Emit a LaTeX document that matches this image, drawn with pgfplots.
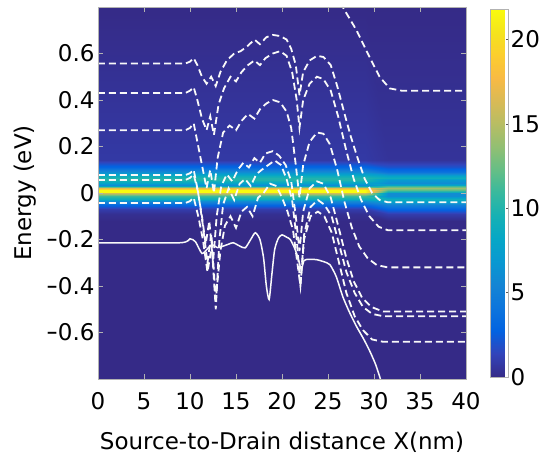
\documentclass[border=0pt]{standalone}
\usepackage{fontspec}
\setmainfont{DejaVu Sans}
\usepackage{graphicx}
\usepackage{pgfplots}
\usepackage{pgfplotstable}
\pgfplotsset{compat=1.18}
\newcommand{\mn}{\scalebox{0.6}[1]{−}}
\newcommand{\fs}{\fontsize{23}{27}\selectfont}

\pgfplotsset{colormap={parula}{
 rgb=(0.2081,0.1663,0.5292)
 rgb=(0.1959,0.2645,0.7279)
 rgb=(0.0117,0.3875,0.8820)
 rgb=(0.0498,0.4586,0.8641)
 rgb=(0.0793,0.5200,0.8312)
 rgb=(0.0343,0.5966,0.8199)
 rgb=(0.0228,0.6535,0.7768)
 rgb=(0.0843,0.6928,0.7062)
 rgb=(0.2178,0.7250,0.6193)
 rgb=(0.3953,0.7459,0.5244)
 rgb=(0.5709,0.7485,0.4494)
 rgb=(0.7184,0.7411,0.3905)
 rgb=(0.8507,0.7299,0.3360)
 rgb=(0.9739,0.7314,0.2666)
 rgb=(0.9880,0.8066,0.1794)
 rgb=(0.9589,0.8949,0.1132)
 rgb=(0.9763,0.9831,0.0538)
}}

% density of states: x (nm), E (eV), value
\pgfplotstableread{
x y c
0 -0.8 0
29 -0.8 0
31.5 -0.8 0
40 -0.8 0
0 -0.12 0
29 -0.12 0
31.5 -0.12 0
40 -0.12 0
0 -0.09 0.3
29 -0.09 0.3
31.5 -0.09 1
40 -0.09 1
0 -0.07 1
29 -0.07 1
31.5 -0.07 3
40 -0.07 3
0 -0.05 3
29 -0.05 3
31.5 -0.05 5
40 -0.05 5
0 -0.035 6
29 -0.035 6
31.5 -0.035 8
40 -0.035 8
0 -0.025 9
29 -0.025 9
31.5 -0.025 9
40 -0.025 9
0 -0.012 11
29 -0.012 11
31.5 -0.012 6
40 -0.012 6
0 0 16
29 0 16
31.5 0 6
40 0 6
0 0.006 21.8
29 0.006 21.8
31.5 0.006 9
40 0.006 9
0 0.012 21.8
29 0.012 21.8
31.5 0.012 12
40 0.012 12
0 0.02 17
29 0.02 17
31.5 0.02 14
40 0.02 14
0 0.028 8
29 0.028 8
31.5 0.028 11
40 0.028 11
0 0.035 6
29 0.035 6
31.5 0.035 8
40 0.035 8
0 0.045 8
29 0.045 8
31.5 0.045 6
40 0.045 6
0 0.055 10
29 0.055 10
31.5 0.055 7
40 0.055 7
0 0.065 10
29 0.065 10
31.5 0.065 9
40 0.065 9
0 0.075 9
29 0.075 9
31.5 0.075 8
40 0.075 8
0 0.09 6
29 0.09 6
31.5 0.09 4
40 0.09 4
0 0.11 3
29 0.11 3
31.5 0.11 2
40 0.11 2
0 0.14 0.8
29 0.14 0.8
31.5 0.14 0.5
40 0.14 0.5
0 0.8 0
29 0.8 0
31.5 0.8 0
40 0.8 0
}\dos

\tikzset{band/.style={white!95!gray, line width=1.8pt, dash pattern=on 7pt off 4pt}}

\begin{document}
\begin{tikzpicture}
\path[use as bounding box] (-98pt,-78pt) rectangle (445pt,379pt);
\begin{axis}[
    width=368pt, height=372pt, scale only axis,
    xmin=0, xmax=40, ymin=-0.8, ymax=0.8,
    xtick={0,5,...,40},
    ytick={-0.6,-0.4,-0.2,0,0.2,0.4,0.6},
    yticklabels={\mn0.6,\mn0.4,\mn0.2,0,0.2,0.4,0.6},
    tick align=inside, major tick length=5pt,
    tick style={gray!60, line width=0.5pt},
    axis line style={gray!60, line width=0.5pt},
    axis on top,
    colormap name=parula,
    point meta min=0, point meta max=21.8,
    /pgf/number format/assume math mode=true,
    tick label style={font=\fs},
    label style={font=\fs},
    xticklabel style={yshift=-10pt},
    xlabel={Source-to-Drain distance X(nm)},
    ylabel={Energy (eV)},
    x label style={at={(axis description cs:0.5,-0.169)}, anchor=center},
    y label style={at={(axis description cs:-0.198,0.5)}, anchor=center},
    colorbar,
    colorbar style={
        at={(parent axis.north east)}, anchor=north west,
        xshift=16pt, yshift=-2pt,
        width=18pt, height=368pt, scale only axis,
        ytick={0,5,10,15,20},
        ytick pos=right, yticklabel pos=right,
        tick align=inside, major tick length=3pt,
        tick style={gray!70!black, line width=0.5pt},
        axis line style={gray!60, line width=0.5pt},
        /pgf/number format/assume math mode=true,
        yticklabel style={font=\fs, inner sep=1pt, xshift=1pt},
    },
]
\addplot[surf, shader=interp, mesh/cols=4, point meta=explicit]
    table[x=x, y=y, meta=c] {\dos};

% top band (enters from above)
\addplot[band] coordinates {
(25,1.05) (26,0.9) (26.6,0.8) (28.1,0.70) (29.2,0.61) (30.6,0.50)
(31.7,0.45) (33,0.44) (40,0.44)};

\addplot[band] coordinates {
(0,0.557) (9.5,0.557) (10,0.565) (10.4,0.58) (10.8,0.55) (11.3,0.50)
(11.8,0.47) (12.3,0.50) (12.8,0.46) (13.3,0.52) (14,0.57) (14.8,0.60)
(15.5,0.61) (16.2,0.63) (17,0.66) (17.6,0.64) (18.3,0.67) (19,0.68)
(19.8,0.675) (20.5,0.66) (21,0.62) (21.5,0.55) (21.9,0.42) (22.3,0.52)
(23,0.57) (23.8,0.59) (24.5,0.585) (25.3,0.55) (26,0.46) (26.8,0.34)
(27.5,0.24) (28.3,0.14) (29,0.06) (29.8,0.0) (30.6,-0.03) (31.5,-0.04)
(40,-0.04)};

\addplot[band] coordinates {
(0,0.43) (9.5,0.43) (10,0.44) (10.4,0.455) (10.8,0.40) (11.3,0.32)
(11.8,0.27) (12.2,0.33) (12.6,0.25) (13.1,0.38) (13.7,0.45) (14.4,0.50)
(15,0.48) (15.6,0.52) (16.3,0.55) (17,0.57) (17.6,0.55) (18.2,0.58)
(19,0.60) (19.8,0.61) (20.5,0.59) (21.1,0.52) (21.6,0.40) (21.9,0.28)
(22.3,0.40) (23,0.47) (23.8,0.50) (24.5,0.49) (25.3,0.44) (26.1,0.33)
(27,0.18) (27.8,0.06) (28.6,-0.03) (29.5,-0.10) (30.5,-0.145) (31.5,-0.16)
(40,-0.16)};

\addplot[band] coordinates {
(0,0.27) (9.5,0.27) (10,0.28) (10.4,0.30) (10.8,0.22) (11.3,0.12)
(11.8,0.02) (12.2,0.10) (12.6,0.0) (13,0.15) (13.6,0.26) (14.3,0.29)
(15,0.27) (15.6,0.31) (16.3,0.34) (17,0.32) (17.6,0.36) (18.3,0.385)
(19,0.40) (19.8,0.39) (20.5,0.35) (21,0.28) (21.5,0.12) (21.9,-0.02)
(22.3,0.12) (23,0.22) (23.8,0.26) (24.5,0.255) (25.2,0.21) (26,0.10)
(26.8,-0.04) (27.6,-0.15) (28.4,-0.23) (29.3,-0.28) (30.3,-0.31) (31.5,-0.32)
(40,-0.32)};

\addplot[band] coordinates {
(0,0.077) (9.5,0.077) (10,0.085) (10.4,0.10) (10.8,0.02) (11.3,-0.10)
(11.7,-0.22) (12.1,-0.12) (12.5,-0.30) (12.9,-0.10) (13.4,0.03) (14,0.08)
(14.6,0.05) (15.2,0.10) (15.8,0.13) (16.4,0.11) (17,0.15) (17.6,0.13)
(18.2,0.17) (19,0.18) (19.7,0.16) (20.4,0.12) (21,0.05) (21.5,-0.10)
(21.9,-0.25) (22.3,-0.08) (23,0.02) (23.8,0.05) (24.5,0.04) (25.3,-0.02)
(26.1,-0.14) (27,-0.28) (27.8,-0.38) (28.7,-0.45) (29.7,-0.49) (31,-0.51)
(40,-0.51)};

\addplot[band] coordinates {
(0,0.056) (9.5,0.056) (10,0.065) (10.4,0.08) (10.9,0.0) (11.4,-0.14)
(11.9,-0.30) (12.3,-0.18) (12.8,-0.50) (13.2,-0.20) (13.6,-0.05) (14.2,0.02)
(14.8,-0.03) (15.4,0.04) (16,0.06) (16.6,0.03) (17.2,0.08) (17.8,0.10)
(18.5,0.12) (19.2,0.14) (19.9,0.12) (20.5,0.06) (21.1,-0.03) (21.6,-0.20)
(22,-0.40) (22.4,-0.18) (23.1,-0.06) (23.9,-0.03) (24.6,-0.05) (25.4,-0.10)
(26.2,-0.22) (27,-0.34) (27.9,-0.43) (28.8,-0.49) (29.8,-0.52) (31,-0.53)
(40,-0.53)};

\addplot[band] coordinates {
(0,-0.043) (9.5,-0.043) (10,-0.035) (10.4,-0.02) (10.9,-0.10) (11.4,-0.20)
(11.9,-0.34) (12.4,-0.22) (12.8,-0.46) (13.3,-0.25) (13.8,-0.14) (14.4,-0.10)
(15,-0.15) (15.6,-0.08) (16.2,-0.06) (16.8,-0.10) (17.4,-0.02) (18,0.0)
(18.7,0.04) (19.4,0.03) (20,-0.02) (20.6,-0.08) (21.2,-0.16) (21.6,-0.28)
(22,-0.40) (22.4,-0.20) (23.1,-0.10) (23.9,-0.08) (24.6,-0.10) (25.4,-0.17)
(26.2,-0.30) (27,-0.43) (27.9,-0.53) (28.8,-0.59) (29.8,-0.63) (31,-0.64)
(40,-0.64)};

% lowest band, solid
\addplot[white!95!gray, line width=1.5pt, smooth, tension=0.4] coordinates {
(0,-0.214) (8.9,-0.214) (10,-0.197) (10.6,-0.21) (11.3,-0.26) (11.9,-0.24)
(12.4,-0.223) (13,-0.235) (13.5,-0.23) (14.2,-0.22) (14.7,-0.214) (15.4,-0.228)
(16,-0.236) (16.6,-0.20) (17.1,-0.171) (17.6,-0.20) (18,-0.28) (18.3,-0.40)
(18.6,-0.458) (18.9,-0.35) (19.2,-0.244) (19.6,-0.195) (20,-0.18) (20.5,-0.19)
(20.9,-0.2) (21.4,-0.24) (21.8,-0.287) (22.1,-0.33) (22.4,-0.29) (23,-0.285)
(23.8,-0.287) (24.5,-0.295) (25.2,-0.308) (25.9,-0.36) (26.6,-0.445) (27.3,-0.51)
(28.1,-0.574) (28.9,-0.63) (29.6,-0.685) (30.2,-0.74) (30.7,-0.8) (31.2,-0.86)};
\end{axis}
\end{tikzpicture}
\end{document}
